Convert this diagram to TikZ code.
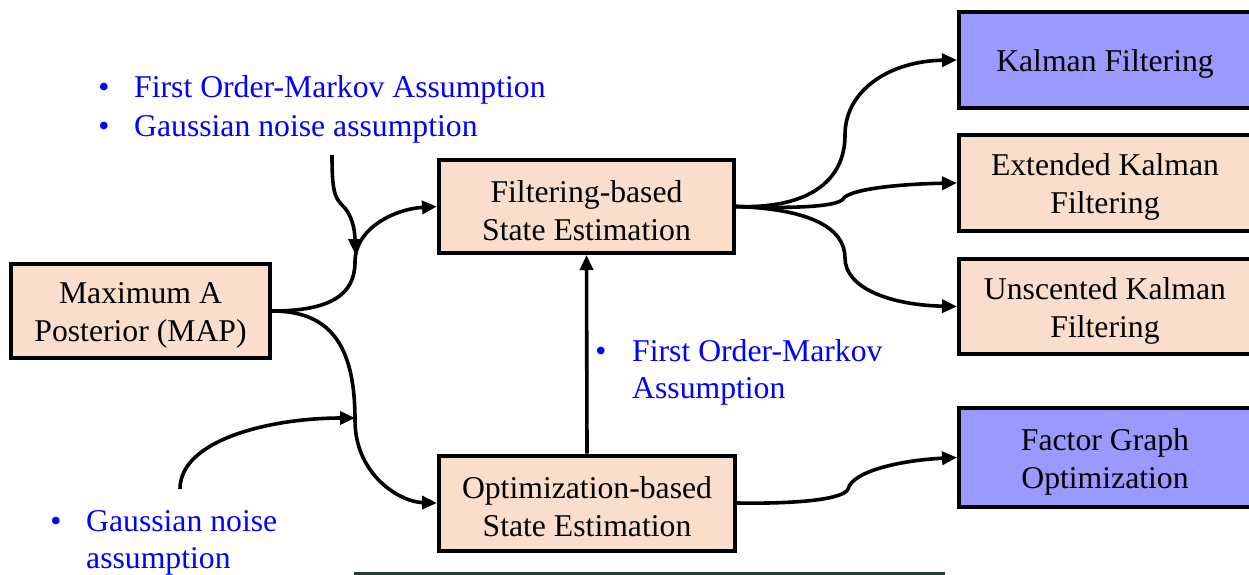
\documentclass[tikz,border=0pt]{standalone}
\usepackage{fontspec}
\setmainfont{Liberation Serif}
\usetikzlibrary{arrows.meta}
\definecolor{peach}{RGB}{250,222,204}
\definecolor{lav}{RGB}{153,153,255}
\definecolor{strip}{RGB}{44,58,52}
\newcommand\toppad{\rule{0pt}{30pt}}
\begin{document}
\begin{tikzpicture}[x=1pt,y=-1pt,
  box/.style={draw=black,line width=4pt,fill=peach,align=center,inner sep=0pt,
    font=\fontsize{31.7}{38}\selectfont},
  bluebox/.style={box,fill=lav},
  conn/.style={line width=3.6pt,-{Triangle[length=15pt,width=13pt]}},
  note/.style={text=blue,inner sep=0pt,anchor=base west,font=\fontsize{31.7}{38}\selectfont},
  bul/.style={text=blue,inner sep=0pt,anchor=base,font=\fontsize{31.7}{38}\selectfont}]
\clip (0,0) rectangle (1249,575);
\fill[white] (0,0) rectangle (1249,575);
% boxes
\node[box,minimum width=259pt,minimum height=94pt] (map) at (140.5,311) {\toppad Maximum A\\Posterior (MAP)};
\node[box,minimum width=295pt,minimum height=93pt] (filt) at (586.5,206.5) {\toppad Filtering-based\\State Estimation};
\node[box,minimum width=296pt,minimum height=95pt] (opt) at (587,503) {\toppad Optimization-based\\State Estimation};
\node[bluebox,minimum width=292pt,minimum height=96pt] (kal) at (1105,60) {\toppad Kalman Filtering};
\node[box,minimum width=292pt,minimum height=96pt] (ext) at (1105,183) {\toppad Extended Kalman\\Filtering};
\node[box,minimum width=292pt,minimum height=95pt] (uns) at (1105,306.5) {\toppad Unscented Kalman\\Filtering};
\node[bluebox,minimum width=292pt,minimum height=99pt] (fac) at (1105,457.5) {\toppad Factor Graph\\Optimization};
% notes
\node[bul] (b1) at (104,98) {•};
\node[note] (n1a) at (134,98) {First Order-Markov Assumption};
\node[bul] (b2) at (104,136) {•};
\node[note] (n1b) at (134,136) {Gaussian noise assumption};
\node[bul] (b3) at (601,361) {•};
\node[note] (n2a) at (632,361) {First Order-Markov};
\node[note] (n2b) at (632,398) {Assumption};
\node[bul] (b4) at (56,531) {•};
\node[note] (n3a) at (86,531) {Gaussian noise};
\node[note] (n3b) at (86,568) {assumption};
% junction points
\coordinate (s1) at (332,155);
\coordinate (j1) at (355,254);
\coordinate (s2) at (180,489);
\coordinate (j2) at (355,418);
% connectors
\draw[conn] (map.east) .. controls (330,311) and (355,295) .. (355,262)
  .. controls (355,228) and (395,209) .. (filt.west);
\draw[conn] (s1) .. controls (332,188) and (334,197) .. (342,205)
  .. controls (352,214) and (355,230) .. (j1);
\draw[conn] (map.east) .. controls (330,311) and (355,345) .. (355,420)
  .. controls (355,475) and (400,502) .. (opt.west);
\draw[conn] (s2) .. controls (180,440) and (270,418) .. (j2);
\draw[conn] (opt.north) -- (filt.south);
\draw[conn] (filt.east) .. controls (810,209) and (845,180) .. (845,135)
  .. controls (845,90) and (890,61) .. (kal.west);
\draw[conn] (filt.east) .. controls (800,209) and (838,206) .. (843,199)
  .. controls (849,189) and (900,184) .. (ext.west);
\draw[conn] (filt.east) .. controls (810,209) and (845,228) .. (845,258)
  .. controls (845,288) and (890,305) .. (uns.west);
\draw[conn] (opt.east) .. controls (800,504) and (844,499) .. (848,489)
  .. controls (853,470) and (905,460) .. (fac.west);
% bottom strip
\fill[strip] (354,572) rectangle (945,576);
\end{tikzpicture}
\end{document}
